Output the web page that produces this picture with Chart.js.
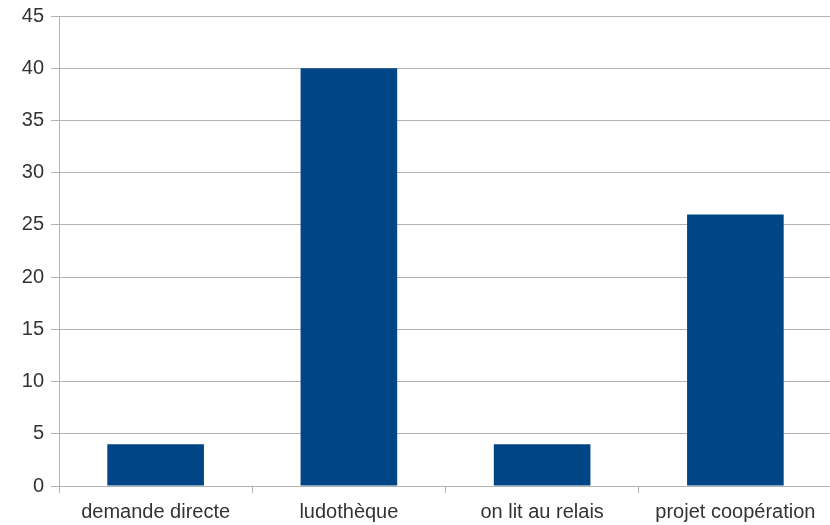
<!DOCTYPE html>
<html>
<head>
<meta charset="utf-8">
<script src="https://cdn.jsdelivr.net/npm/chart.js@4"></script>
<style>
  html, body { margin: 0; padding: 0; background: #fff; overflow: hidden; }
  #wrap { position: relative; width: 832px; height: 525px; }
</style>
</head>
<body>
<div id="wrap"><canvas id="chart"></canvas></div>
<script>
// data
const categories = ['demande directe', 'ludothèque', 'on lit au relais', 'projet coopération'];
const values = [4, 40, 4, 26];
const yMax = 45;
const yStep = 5;

const gridColor = '#b3b3b3';
const textColor = '#333';
const font = { family: 'Liberation Sans', size: 20 };

new Chart(document.getElementById('chart'), {
  type: 'bar',
  data: {
    labels: categories,
    datasets: [{
      data: values,
      backgroundColor: '#004586',
      borderWidth: 0,
      barPercentage: 0.5,
      categoryPercentage: 1
    }]
  },
  options: {
    responsive: true,
    maintainAspectRatio: false,
    animation: false,
    layout: { padding: { top: 16, right: 0, left: 0, bottom: 0 } },
    plugins: { legend: { display: false }, tooltip: { enabled: false } },
    scales: {
      x: {
        offset: true,
        grid: { offset: true, drawOnChartArea: false, color: gridColor, tickLength: 7 },
        border: { color: gridColor },
        ticks: { color: textColor, font: font, padding: 7, maxRotation: 0, autoSkip: false },
        afterFit: s => { s.height = 39; s.paddingLeft = 0; s.paddingRight = 0; }
      },
      y: {
        min: 0,
        max: yMax,
        ticks: { stepSize: yStep, color: textColor, font: font, padding: 7 },
        grid: { color: gridColor, tickLength: 8 },
        border: { color: gridColor },
        afterFit: s => { s.width = 59; s.paddingTop = 0; s.paddingBottom = 0; }
      }
    }
  }
});
</script>
</body>
</html>
